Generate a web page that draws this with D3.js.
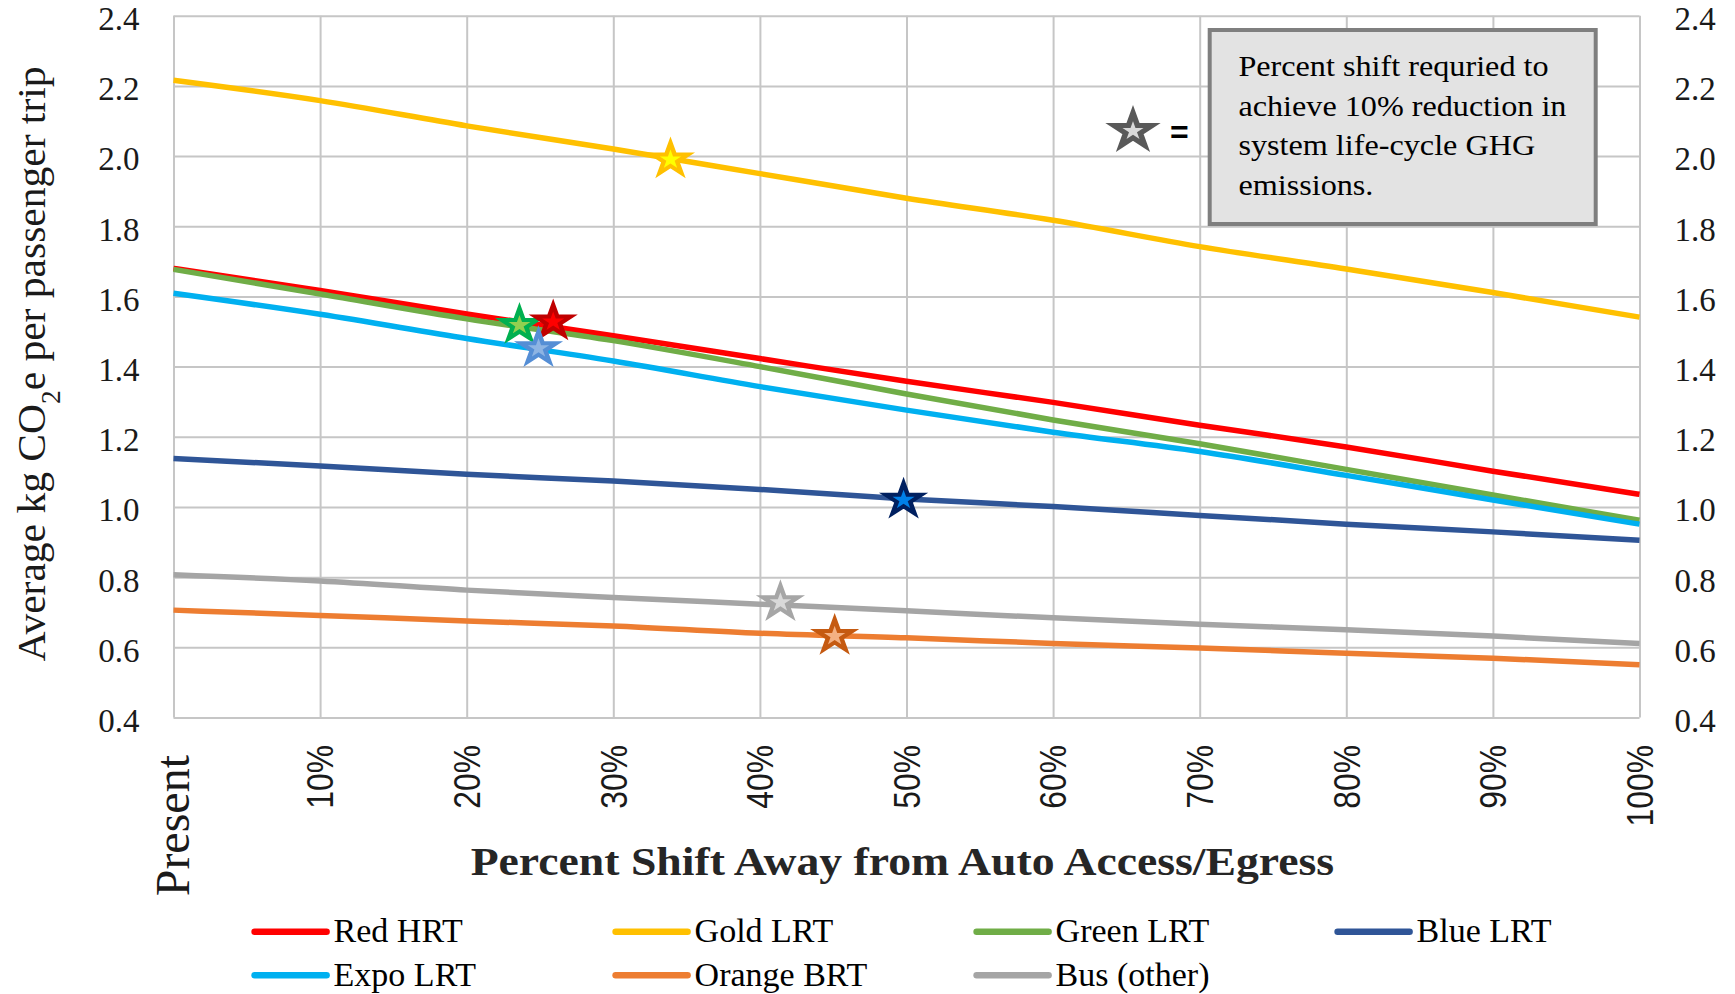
<!DOCTYPE html>
<html><head><meta charset="utf-8">
<script src="https://cdn.jsdelivr.net/npm/d3@7"></script>
<style>body{margin:0;background:#fff}svg{display:block}</style>
</head><body>
<svg id="chart" width="1735" height="994"></svg>
<script>
// ---------------- data ----------------
const shifts = [0, 10, 20, 30, 40, 50, 60, 70, 80, 90, 100];
const xTickLabels = ["Present", "10%", "20%", "30%", "40%", "50%", "60%", "70%", "80%", "90%", "100%"];
const yTicks = [0.4, 0.6, 0.8, 1.0, 1.2, 1.4, 1.6, 1.8, 2.0, 2.2, 2.4];
const seriesNames = ["Red HRT", "Gold LRT", "Green LRT", "Blue LRT", "Expo LRT", "Orange BRT", "Bus (other)"];
const redHRT    = [1.680, 1.617, 1.550, 1.488, 1.423, 1.358, 1.298, 1.233, 1.171, 1.102, 1.036];
const goldLRT   = [2.216, 2.158, 2.086, 2.020, 1.950, 1.880, 1.817, 1.742, 1.678, 1.611, 1.541];
const greenLRT  = [1.677, 1.607, 1.536, 1.474, 1.400, 1.322, 1.248, 1.180, 1.107, 1.034, 0.962];
const blueLRT   = [1.138, 1.117, 1.093, 1.074, 1.050, 1.023, 1.001, 0.976, 0.951, 0.929, 0.905];
const expoLRT   = [1.609, 1.549, 1.480, 1.416, 1.343, 1.276, 1.213, 1.158, 1.090, 1.020, 0.951];
const orangeBRT = [0.706, 0.691, 0.675, 0.661, 0.640, 0.627, 0.611, 0.598, 0.583, 0.569, 0.550];
const busOther  = [0.807, 0.789, 0.763, 0.742, 0.723, 0.704, 0.684, 0.666, 0.650, 0.632, 0.611];
// stars: shift required for 10% reduction
const starSeries = ["Gold LRT", "Green LRT", "Red HRT", "Blue LRT", "Expo LRT", "Orange BRT", "Bus (other)"];
const starShift  = [33.9, 23.6, 25.9, 49.8, 24.9, 45.1, 41.4];
const starValue  = [1.990, 1.518, 1.528, 1.020, 1.452, 0.632, 0.728];
const noteLines = ["Percent shift requried to", "achieve 10% reduction in", "system life-cycle GHG", "emissions."];
const xTitle = "Percent Shift Away from Auto Access/Egress";

// ---------------- styles ----------------
const seriesValues = [redHRT, goldLRT, greenLRT, blueLRT, expoLRT, orangeBRT, busOther];
const lineColors = {"Red HRT":"#FF0000","Gold LRT":"#FFC000","Green LRT":"#70AD47","Blue LRT":"#2F5597",
  "Expo LRT":"#00B0F0","Orange BRT":"#ED7D31","Bus (other)":"#A5A5A5"};
const starFill = {"Red HRT":"#FF0000","Gold LRT":"#FFFF00","Green LRT":"#92D050","Blue LRT":"#0080E8",
  "Expo LRT":"#8EB4E3","Orange BRT":"#F4B183","Bus (other)":"#D9D9D9"};
const starStroke = {"Red HRT":"#C00000","Gold LRT":"#FFC000","Green LRT":"#00B050","Blue LRT":"#002060",
  "Expo LRT":"#558ED5","Orange BRT":"#C55A11","Bus (other)":"#A6A6A6"};
const SERIF = "'Palatino Linotype','Book Antiqua',Palatino,'Liberation Serif','DejaVu Serif',serif";
const SANS = "'Liberation Sans',Arial,sans-serif";
const TXT = "#1a1a1a";

const svg = d3.select("#chart");
const x = d3.scaleLinear().domain([0, 100]).range([173.5, 1639.5]);
const y = d3.scaleLinear().domain([0.4, 2.4]).range([717.5, 15.7]);
const [x0, x1] = x.range();
const [yb, yt] = y.range();

function stretch(sel, f) {
  sel.each(function(){ const n = this.getComputedTextLength(); d3.select(this).attr("textLength", n * f).attr("lengthAdjust", "spacingAndGlyphs"); });
}

// ---------------- grid ----------------
const gx = svg.append("g").attr("transform", `translate(0,${yb})`)
  .call(d3.axisBottom(x).tickValues(shifts).tickSize(-(yb - yt)).tickFormat(""));
gx.select(".domain").remove();
gx.selectAll(".tick line").attr("stroke", "#C6C6C6").attr("stroke-width", 2);

const gyL = svg.append("g").attr("transform", `translate(${x0},0)`)
  .call(d3.axisLeft(y).tickValues(yTicks).tickSize(-(x1 - x0)).tickPadding(34).tickFormat(d3.format(".1f")));
gyL.select(".domain").remove();
gyL.selectAll(".tick line").attr("stroke", "#C6C6C6").attr("stroke-width", 2);
gyL.selectAll(".tick text").attr("font-family", SERIF).attr("font-size", 33).attr("fill", TXT).attr("dy", "0.42em");

const gyR = svg.append("g").attr("transform", `translate(${x1},0)`)
  .call(d3.axisRight(y).tickValues(yTicks).tickSize(0).tickPadding(35).tickFormat(d3.format(".1f")));
gyR.select(".domain").remove();
gyR.selectAll(".tick text").attr("font-family", SERIF).attr("font-size", 33).attr("fill", TXT).attr("dy", "0.42em");

// x tick labels (rotated)
const xl = svg.append("g");
xl.selectAll("text").data(shifts).join("text")
  .attr("transform", (d) => `translate(${x(d)},${d === 0 ? 755 : 745}) rotate(-90)`)
  .attr("text-anchor", "end")
  .attr("dy", (d) => d === 0 ? "0.33em" : "0.36em")
  .attr("font-family", (d) => d === 0 ? SERIF : SANS)
  .attr("font-size", (d) => d === 0 ? 48 : 37)
  .attr("fill", TXT)
  .text((d, i) => xTickLabels[i]);
stretch(xl.selectAll("text").filter((d) => d !== 0), 0.86);

// ---------------- lines ----------------
const line = d3.line().x((d, i) => x(shifts[i])).y((d) => y(d)).curve(d3.curveMonotoneX);
svg.append("g").selectAll("path").data(seriesValues).join("path")
  .attr("d", line)
  .attr("fill", "none")
  .attr("stroke", (d, i) => lineColors[seriesNames[i]])
  .attr("stroke-width", 5.5)
  .attr("stroke-linejoin", "round");

// ---------------- stars ----------------
const starPath = d3.symbol(d3.symbolStar, 310)();
svg.append("g").selectAll("path").data(starSeries).join("path")
  .attr("d", starPath)
  .attr("transform", (d, i) => `translate(${x(starShift[i])},${y(starValue[i])}) scale(1.12,1)`)
  .attr("fill", (d) => starFill[d])
  .attr("stroke", (d) => starStroke[d])
  .attr("stroke-width", 4)
  .attr("stroke-linejoin", "miter");

// ---------------- note ----------------
svg.append("path").attr("d", d3.symbol(d3.symbolStar, 360)())
  .attr("transform", `translate(1133,131) scale(1.12,1)`)
  .attr("fill", "#D9D9D9").attr("stroke", "#595959").attr("stroke-width", 5);
svg.append("text").attr("x", 1170).attr("y", 143).attr("font-family", SANS).attr("font-weight", "bold")
  .attr("font-size", 32).attr("fill", "#000").text("=");

svg.append("rect").attr("x", 1209.7).attr("y", 30).attr("width", 386).attr("height", 194)
  .attr("fill", "#E3E3E3").attr("stroke", "#7F7F7F").attr("stroke-width", 4);
const note = svg.append("g").selectAll("text").data(noteLines).join("text")
  .attr("x", 1238.4).attr("y", (d, i) => 76 + i * 39.6)
  .attr("font-family", SERIF).attr("font-size", 29).attr("fill", "#000")
  .text((d) => d);
stretch(note, 1.11);

// ---------------- axis titles ----------------
const yTitle = svg.append("text")
  .attr("transform", "translate(44.7,364) rotate(-90)")
  .attr("text-anchor", "middle")
  .attr("font-family", SERIF).attr("font-size", 41).attr("fill", TXT);
yTitle.append("tspan").text("Average kg CO");
yTitle.append("tspan").attr("font-size", 27).attr("baseline-shift", "sub").text("2");
yTitle.append("tspan").text("e per passenger trip");
yTitle.attr("textLength", 595).attr("lengthAdjust", "spacingAndGlyphs");

svg.append("text").attr("x", 902.4).attr("y", 875)
  .attr("text-anchor", "middle").attr("font-family", SERIF).attr("font-weight", "bold")
  .attr("font-size", 40).attr("fill", "#262626")
  .attr("textLength", 863.5).attr("lengthAdjust", "spacingAndGlyphs")
  .text(xTitle);

// ---------------- legend ----------------
const legCols = 4, legX0 = 252.6, legDX = 361, legY0 = 931.7, legDY = 43.5;
const leg = svg.append("g").selectAll("g").data(seriesNames).join("g")
  .attr("transform", (d, i) => `translate(${legX0 + (i % legCols) * legDX},${legY0 + Math.floor(i / legCols) * legDY})`);
leg.append("line").attr("x1", 2).attr("x2", 74).attr("y1", 0).attr("y2", 0)
  .attr("stroke", (d) => lineColors[d]).attr("stroke-width", 6.5).attr("stroke-linecap", "round");
leg.append("text").attr("x", 81).attr("y", 10.5)
  .attr("font-family", SERIF).attr("font-size", 34).attr("fill", "#000").text((d) => d);
</script>
</body></html>
